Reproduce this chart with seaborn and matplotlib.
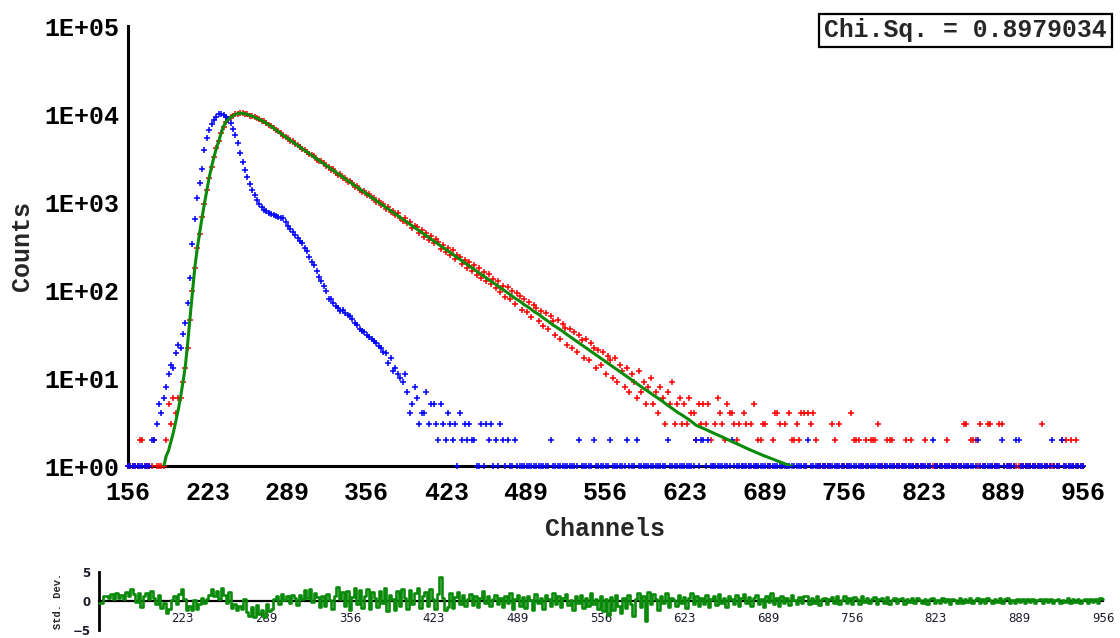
import numpy as np
import pandas as pd
import matplotlib
matplotlib.use("Agg")
import matplotlib.pyplot as plt
from matplotlib.ticker import LogLocator, FuncFormatter, FixedLocator, NullFormatter, NullLocator
import seaborn as sns

# ---------------- data ----------------
channels = list(range(156, 957, 2))

decay_counts = [
    0, 1, 0, 0, 1, 2, 2, 1, 0, 1,
    0, 2, 1, 0, 1, 1, 2, 5, 3, 6,
    4, 6, 6, 9, 13, 22, 46, 97, 176, 302,
    438, 672, 942, 1365, 1875, 2530, 3215, 4085, 4890, 6050,
    7180, 8170, 8650, 9160, 9510, 9920, 10060, 10270, 10150, 10090,
    9950, 9610, 9520, 9270, 8890, 8760, 8380, 8230, 7810, 7490,
    7330, 6880, 6570, 6390, 6020, 5660, 5540, 5310, 4960, 4870,
    4560, 4480, 4190, 3970, 3920, 3740, 3470, 3420, 3300, 3040,
    2920, 2900, 2750, 2540, 2530, 2330, 2350, 2160, 2040, 2070,
    1880, 1850, 1700, 1730, 1640, 1490, 1520, 1380, 1310, 1340,
    1210, 1230, 1100, 1120, 1000, 1030, 930, 955, 842, 878,
    770, 790, 705, 745, 650, 615, 660, 570, 598, 510,
    540, 520, 445, 478, 405, 440, 372, 410, 340, 375,
    352, 295, 328, 268, 302, 250, 284, 226, 252, 238,
    195, 222, 180, 208, 165, 190, 150, 178, 138, 160,
    126, 152, 118, 132, 105, 125, 96, 112, 84, 108,
    79, 98, 70, 92, 86, 60, 79, 56, 74, 49,
    68, 63, 44, 58, 39, 55, 36, 51, 45, 31,
    46, 28, 41, 37, 24, 36, 22, 33, 20, 31,
    27, 17, 28, 16, 25, 22, 13, 21, 14, 20,
    11, 18, 16, 10, 17, 9, 14, 12, 8, 13,
    7, 11, 9, 6, 12, 7, 9, 5, 8, 10,
    5, 7, 4, 8, 6, 3, 7, 5, 9, 3,
    5, 6, 3, 5, 3, 6, 4, 4, 2, 5,
    3, 5, 3, 5, 2, 1, 3, 6, 4, 3,
    2, 5, 4, 4, 3, 2, 3, 1, 4, 3,
    1, 3, 5, 1, 2, 2, 3, 3, 1, 0,
    2, 4, 4, 3, 1, 3, 0, 4, 2, 2,
    3, 2, 4, 4, 1, 4, 3, 4, 2, 1,
    0, 1, 0, 1, 0, 3, 2, 0, 3, 1,
    0, 1, 0, 4, 2, 2, 2, 0, 1, 2,
    0, 2, 2, 2, 3, 0, 1, 0, 2, 2,
    2, 0, 1, 0, 1, 0, 2, 1, 2, 0,
    1, 0, 1, 0, 2, 1, 0, 1, 0, 1,
    0, 1, 0, 2, 1, 0, 1, 0, 1, 0,
    3, 3, 0, 2, 2, 2, 1, 3, 0, 1,
    3, 3, 0, 1, 0, 3, 3, 0, 1, 0,
    1, 0, 1, 0, 1, 0, 1, 0, 1, 0,
    1, 0, 1, 3, 0, 1, 0, 1, 0, 1,
    0, 2, 1, 2, 0, 2, 1, 2, 0, 1,
    1,
]

irf_counts = [
    1, 0, 0, 1, 0, 1, 0, 1, 0, 1,
    2, 2, 3, 5, 4, 6, 8, 11, 14, 13,
    19, 24, 22, 32, 42, 72, 137, 330, 640, 1100,
    1650, 2400, 3900, 5300, 6600, 7700, 8600, 9300, 9900, 10000,
    9700, 9300, 8800, 8000, 6800, 5800, 4700, 3600, 2850, 2300,
    1930, 1620, 1370, 1190, 1050, 950, 880, 810, 780, 750,
    730, 705, 685, 675, 665, 650, 585, 530, 490, 455,
    420, 390, 365, 340, 300, 275, 240, 210, 190, 165,
    140, 125, 110, 98, 78, 80, 72, 65, 62, 58,
    60, 55, 52, 50, 47, 42, 40, 36, 34, 33,
    31, 29, 28, 26, 25, 23, 22, 20, 19, 15,
    17, 12, 13, 11, 10, 9, 11, 7, 4, 5,
    8, 6, 3, 4, 4, 7, 3, 5, 5, 3,
    2, 5, 3, 2, 4, 3, 2, 3, 1, 4,
    2, 3, 2, 3, 2, 2, 1, 0, 3, 1,
    3, 2, 3, 0, 2, 1, 3, 2, 1, 2,
    0, 1, 2, 1, 0, 1, 0, 1, 1, 0,
    1, 0, 1, 0, 1, 0, 1, 2, 0, 1,
    0, 1, 0, 1, 0, 1, 0, 1, 0, 2,
    1, 0, 1, 0, 1, 2, 0, 1, 0, 1,
    0, 1, 2, 0, 1, 0, 1, 0, 1, 2,
    0, 1, 0, 2, 1, 0, 1, 0, 1, 0,
    1, 0, 1, 0, 1, 0, 2, 1, 0, 1,
    0, 1, 0, 1, 0, 1, 0, 1, 2, 1,
    2, 2, 0, 2, 1, 0, 1, 0, 1, 0,
    1, 0, 1, 2, 0, 1, 0, 1, 0, 1,
    0, 1, 0, 1, 0, 1, 0, 1, 0, 1,
    0, 1, 0, 1, 0, 1, 0, 1, 0, 1,
    0, 1, 0, 1, 0, 2, 0, 1, 0, 1,
    0, 1, 0, 1, 0, 1, 0, 1, 0, 1,
    0, 1, 0, 1, 0, 1, 0, 1, 0, 1,
    0, 1, 0, 1, 0, 1, 0, 1, 0, 1,
    0, 1, 0, 1, 0, 1, 0, 1, 0, 1,
    0, 1, 0, 1, 0, 1, 0, 2, 0, 1,
    0, 1, 0, 1, 0, 1, 0, 1, 0, 1,
    0, 1, 0, 1, 0, 1, 2, 0, 1, 0,
    1, 0, 1, 0, 1, 0, 2, 0, 1, 0,
    1, 0, 2, 2, 0, 1, 0, 1, 0, 1,
    0, 1, 0, 1, 0, 1, 0, 2, 0, 1,
    0, 2, 0, 1, 0, 1, 0, 1, 0, 1,
    0,
]

fit_channels = list(range(186, 251, 2)) + list(range(252, 713, 4))
fit_counts = [
    1.0, 1.3, 1.5, 1.9, 2.4, 3.2, 4.3, 6.0, 8.9, 13.5,
    25, 49, 95, 182, 295, 447, 660, 955, 1350, 1900,
    2510, 3240, 4070, 4900, 6030, 7240, 8130, 8710, 9120, 9550,
    9890, 10100, 10230,
    10190, 9890, 9460, 8970, 8430, 7850, 7240, 6610, 5990, 5488,
    5026, 4604, 4217, 3863, 3538, 3241, 2969, 2719, 2491, 2282,
    2090, 1915, 1754, 1607, 1472, 1348, 1235, 1131, 1036, 949,
    870, 796, 730, 668, 612, 561, 514, 471, 431, 395,
    362, 331, 303, 278, 255, 233, 214, 196, 179, 164,
    150, 138, 126, 116, 106, 97, 89, 81, 75, 68,
    63, 57, 53, 48, 44, 40, 37, 34, 31, 28.4,
    26.0, 23.8, 21.8, 20.0, 18.3, 16.8, 15.4, 14.1, 12.9, 11.8,
    10.8, 9.9, 9.1, 8.3, 7.6, 7.0, 6.4, 5.9, 5.4, 4.9,
    4.5, 4.1, 3.8, 3.5, 3.2, 2.9, 2.75, 2.6, 2.45, 2.32,
    2.19, 2.07, 1.95, 1.84, 1.74, 1.64, 1.55, 1.47, 1.39, 1.32,
    1.26, 1.20, 1.14, 1.09, 1.035, 0.99,
]

residuals = [
    -0.3, -0.3, 0.8, 0.9, 0.5, 1.2, 0.4, 1.4, 0.6, 1.1,
    0.3, 1.5, 0.8, 2.0, 1.2, -0.2, 1.4, -1.0, 0.9, 1.3,
    0.4, 1.8, 0.6, -0.5, 1.0, -1.2, -0.4, -2.0, -1.3, 0.2,
    0.8, -0.6, 1.2, 2.0, 0.3, -1.5, -0.9, -1.6, 0.2, -1.3,
    -0.5, 0.6, -0.3, 0.4, 1.1, 2.1, 0.9, 1.8, 0.4, 2.2,
    1.0, -0.4, 1.6, -1.2, -0.6, -1.5, -0.8, -1.4, 0.3, -1.9,
    -2.6, -1.1, -2.8, -0.7, -2.3, -1.6, -2.7, -0.5, -1.8, -1.3,
    0.4, 0.9, -0.6, 1.2, 0.2, 0.8, -0.4, 1.0, 0.5, -0.7,
    1.1, 0.3, 1.9, 0.6, 2.0, -0.2, 1.4, 0.7, -1.0, 0.8,
    -0.8, 1.2, 0.1, -1.3, 0.9, 2.5, 0.3, 1.6, -0.9, 1.8,
    -1.6, 0.7, 2.2, -0.5, 1.9, -1.2, 0.9, 2.0, -1.4, 1.5,
    0.6, -1.1, 1.8, -0.4, 2.2, -1.7, 1.0, 0.4, -1.5, 1.7,
    -0.9, 2.1, 0.5, -1.3, 1.9, -0.6, 1.4, 2.3, -1.2, 0.8,
    1.6, -0.8, 2.0, 0.3, -1.4, 1.2, 4.1, 0.6, -1.5, -1.0,
    1.3, -1.2, 0.7, 1.6, -0.5, 1.1, -0.9, 0.4, 1.2, -0.7,
    0.8, -1.0, 0.5, 1.8, -0.4, 0.9, -0.8, 0.3, 1.1, -0.6,
    0.6, -1.1, 0.9, -0.3, 1.3, -1.4, 0.4, 1.0, -0.9, 0.7,
    -1.2, 0.8, 0.2, -1.5, 1.2, -0.4, 0.6, -1.3, 1.0, 0.3,
    -0.8, 1.4, -0.5, 0.9, -1.1, 0.5, 1.2, -0.7, 0.2, -1.6,
    0.8, -0.4, 1.1, -1.2, 0.5, -0.9, 1.3, -0.6, 0.4, -1.4,
    0.9, -1.8, 0.3, -2.4, 0.7, -1.5, 1.0, -0.8, -2.0, 0.6,
    -1.2, 1.1, -0.5, -2.5, 0.4, 1.3, -1.0, 0.8, -3.4, 1.5,
    -0.6, 1.2, 0.3, -1.5, 0.9, -0.4, 1.4, -1.1, 0.6, 0.2,
    -0.8, 1.0, -0.3, 0.7, -1.2, 0.5, 1.3, -0.6, 0.9, -0.9,
    0.6, -0.5, 1.1, -1.0, 0.4, 0.8, -0.7, 1.2, -0.3, 0.6,
    -1.1, 0.9, 0.3, -0.6, 1.0, -0.8, 0.5, 1.2, -0.4, 0.7,
    -0.9, 0.6, 1.1, -0.5, 0.3, -1.0, 0.8, -0.2, 1.3, -0.6,
    0.5, -0.8, 0.9, -0.3, 0.6, -0.7, 1.0, 0.2, -0.5, 0.7,
    -0.4, 0.8, 0.9, -0.6, 0.5, -0.3, 0.8, -0.7, 0.4, 0.6,
    -0.5, 0.3, 0.7, -0.4, 0.9, -0.6, 0.2, 0.8, -0.3, 0.5,
    -0.6, 0.7, 0.4, -0.5, 0.8, -0.2, 0.6, -0.4, 0.3, 0.7,
    -0.5, 0.4, 0.6, -0.3, 0.7, -0.6, 0.2, 0.5, -0.4, 0.3,
    0.6, -0.5, 0.3, -0.2, 0.5, -0.4, 0.6, 0.2, -0.3, 0.4,
    -0.5, 0.3, 0.5, -0.3, 0.2, -0.4, 0.6, -0.2, 0.3, -0.5,
    0.4, 0.2, -0.3, 0.5, -0.4, 0.3, -0.2, 0.5, -0.3, 0.2,
    0.6, -0.3, 0.4, -0.4, 0.5, 0.2, -0.3, 0.4, -0.2, 0.5,
    -0.4, 0.3, 0.5, -0.3, 0.2, -0.4, 0.4, -0.2, 0.3, -0.3,
    0.4, -0.2, 0.3, -0.4, 0.2, 0.3, -0.3, 0.4, -0.2, 0.3,
    -0.3, 0.2, 0.4, -0.3, 0.2, -0.2, 0.5, -0.3, 0.3, -0.2,
    0.3, -0.4, 0.2, 0.3, -0.3, 0.4, -0.2, 0.3, -0.4, 0.5,
    0.3,
]

x_tick_positions = [156 + 800 * k / 12 for k in range(13)]
x_tick_labels = ["156", "223", "289", "356", "423", "489", "556",
                 "623", "689", "756", "823", "889", "956"]
chi_sq_text = "Chi.Sq. = 0.8979034"

# ---------------- style ----------------
sns.set_style("white")
plt.rcParams["font.family"] = ["Liberation Mono", "DejaVu Sans"]
plt.rcParams["font.weight"] = "bold"

RED = "#ff0000"
BLUE = "#0000ff"
GREEN = "#0a8a0a"
FS = 18

decay_df = pd.DataFrame({"channel": channels,
                         "counts": np.clip(np.array(decay_counts, float), 1, None)})
irf_df = pd.DataFrame({"channel": channels,
                       "counts": np.clip(np.array(irf_counts, float), 1, None)})
fit_df = pd.DataFrame({"channel": fit_channels, "counts": fit_counts})
res_df = pd.DataFrame({"channel": channels, "res": residuals})

fig = plt.figure(figsize=(11.2, 6.38), dpi=100)
W, H = 1120, 638
ax = fig.add_axes([128 / W, 1 - 466 / H, (1083 - 128) / W, (466 - 26) / H])
rax = fig.add_axes([99 / W, 1 - 630 / H, (1103 - 99) / W, (630 - 572) / H])

# ---------------- main panel ----------------
sns.scatterplot(data=decay_df, x="channel", y="counts", ax=ax, marker="+",
                s=18, linewidth=1.1, color=RED, clip_on=False, zorder=3, legend=False)
sns.scatterplot(data=irf_df, x="channel", y="counts", ax=ax, marker="+",
                s=18, linewidth=1.1, color=BLUE, clip_on=False, zorder=3, legend=False)
sns.lineplot(data=fit_df, x="channel", y="counts", ax=ax, color=GREEN,
             linewidth=2.2, sort=False, zorder=4, legend=False)

ax.set_yscale("log")
ax.set_xlim(156, 956)
ax.set_ylim(1, 1e5)
ax.yaxis.set_major_locator(LogLocator(base=10, numticks=10))
ax.yaxis.set_minor_locator(LogLocator(base=10, subs=np.arange(2, 10), numticks=20))
ax.yaxis.set_minor_formatter(NullFormatter())
ax.yaxis.set_major_formatter(FuncFormatter(lambda v, p: f"1E+{int(round(np.log10(v))):02d}"))
ax.xaxis.set_major_locator(FixedLocator(x_tick_positions))
ax.set_xticklabels(x_tick_labels)
ax.xaxis.set_minor_locator(NullLocator())

for s in ["top", "right"]:
    ax.spines[s].set_visible(False)
for s in ["left", "bottom"]:
    ax.spines[s].set_linewidth(2.2)
    ax.spines[s].set_color("black")

ax.tick_params(axis="y", which="major", direction="inout", length=11, width=1.8,
               pad=1, labelsize=FS, colors="black")
ax.tick_params(axis="y", which="minor", direction="inout", length=7, width=1.4)
ax.tick_params(axis="x", which="major", direction="inout", length=12, width=1.8,
               pad=5, labelsize=FS, colors="black")
for lab in ax.get_xticklabels() + ax.get_yticklabels():
    lab.set_fontweight("bold")

ax.set_xlabel("Channels", fontsize=FS, fontweight="bold")
ax.set_ylabel("Counts", fontsize=FS, fontweight="bold")
ax.xaxis.set_label_coords(0.5, -0.115)
ax.yaxis.set_label_coords(-0.098, 0.5)

fig.text(1107 / W, 1 - 30.5 / H, chi_sq_text, ha="right", va="center",
         fontsize=17.8, fontweight="bold", family=["Liberation Mono", "DejaVu Sans"],
         bbox=dict(boxstyle="square,pad=0.2", fc="white", ec="black", lw=1.6))

# ---------------- residual panel ----------------
sns.lineplot(data=res_df, x="channel", y="res", ax=rax, color=GREEN,
             linewidth=1.9, drawstyle="steps-mid", sort=False, legend=False,
             clip_on=False, zorder=3)
rax.set_xlim(156, 956)
rax.set_ylim(-5, 5)
rax.spines["bottom"].set_position(("data", 0))
for s in ["top", "right"]:
    rax.spines[s].set_visible(False)
rax.spines["left"].set_linewidth(2.0)
rax.spines["bottom"].set_linewidth(1.6)
rax.spines["left"].set_color("black")
rax.spines["bottom"].set_color("black")
rax.xaxis.set_major_locator(FixedLocator(x_tick_positions[1:]))
rax.set_xticklabels(x_tick_labels[1:])
rax.yaxis.set_major_locator(FixedLocator([-5, 0, 5]))
rax.yaxis.set_minor_locator(FixedLocator([-2.5, 2.5]))
rax.set_yticklabels(["\u22125", "0", "5"])
rax.tick_params(axis="x", which="major", direction="inout", length=6, width=1.4,
                pad=5, labelsize=8.5, colors="#1a1a2a")
rax.tick_params(axis="y", which="major", direction="inout", length=8, width=1.6,
                pad=2, labelsize=8.5, colors="#1a1a2a")
rax.tick_params(axis="y", which="minor", direction="inout", length=6, width=1.4)
for lab in rax.get_xticklabels() + rax.get_yticklabels():
    lab.set_fontfamily("DejaVu Sans")
    lab.set_fontweight("normal")
for lab in rax.get_yticklabels():
    lab.set_fontweight("bold")
rax.set_xlabel("")
rax.set_ylabel("Std. Dev.", fontsize=7.5, fontweight="bold")
rax.yaxis.set_label_coords(-0.036, 0.5)

fig.savefig("out.png", dpi=100)
